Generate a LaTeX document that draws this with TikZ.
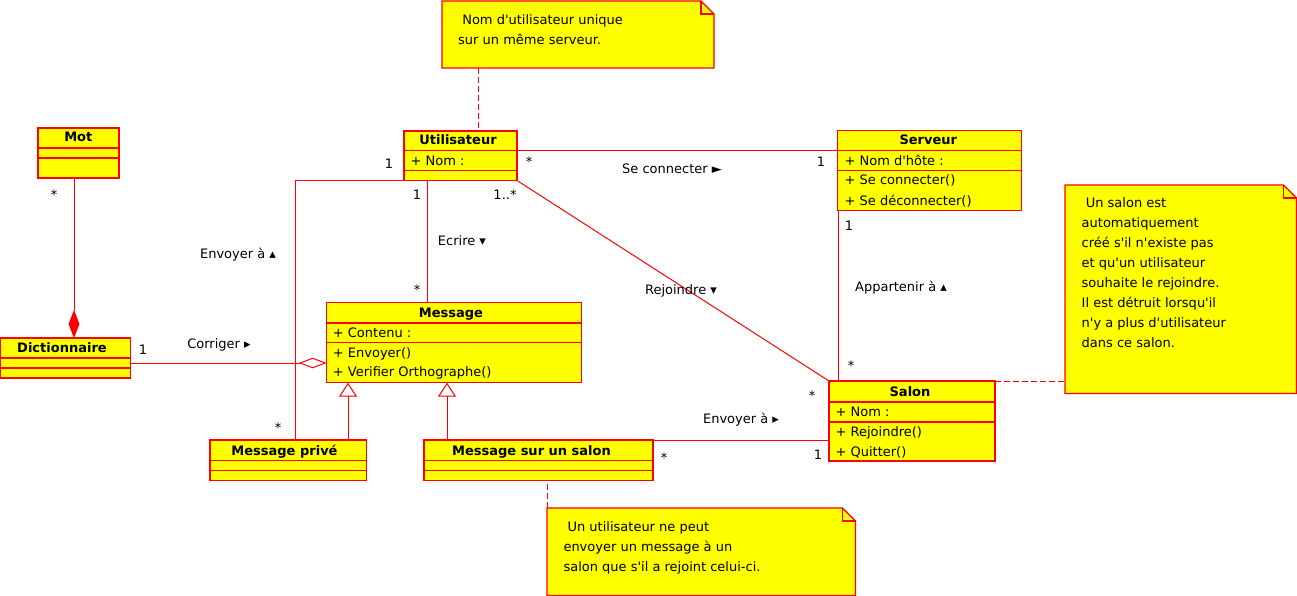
\documentclass[tikz,border=0pt]{standalone}
\usepackage{fontspec}
\setmainfont{DejaVu Sans}[Ligatures=TeXOff]
\usetikzlibrary{calc,arrows.meta}
\definecolor{umlred}{HTML}{FF0000}
\definecolor{umlyellow}{HTML}{FFFF00}
\begin{document}
\begin{tikzpicture}[x=1pt,y=-1pt,
  box/.style={draw=umlred, fill=umlyellow, line width=1.1pt, inner sep=0pt, outer sep=0pt, anchor=north west},
  notebox/.style={inner sep=0pt, outer sep=0pt, anchor=north west},
  notefill/.style={draw=umlred, fill=umlyellow, line width=1.1pt, line join=miter},
  sepline/.style={draw=umlred, line width=1.1pt},
  assoc/.style={draw=umlred, line width=1pt},
  dl/.style={draw=umlred, line width=1pt, dash pattern=on 6pt off 3pt},
  lbl/.style={font=\fontsize{13}{16}\selectfont, inner sep=0pt, anchor=base},
  ttl/.style={font=\bfseries\fontsize{13}{16}\selectfont, inner sep=0pt, anchor=base},
  attr/.style={font=\fontsize{13}{16}\selectfont, inner sep=0pt, anchor=base west},
  notetext/.style={font=\fontsize{13}{20}\selectfont, inner sep=0pt, anchor=north west, align=left}]
\useasboundingbox (0,0) rectangle (1297,596);

% ---------- classes ----------
\node[box, minimum width=81pt, minimum height=50pt] (mot) at (38,128) {};
\draw[sepline] ([yshift=-20pt]mot.north west) -- ([yshift=-20pt]mot.north east);
\draw[sepline] ([yshift=-30pt]mot.north west) -- ([yshift=-30pt]mot.north east);
\node[ttl] (tmot) at (78.3,142) {Mot};

\node[box, minimum width=129.5pt, minimum height=40pt] (dict) at (0.7,338) {};
\draw[sepline] ([yshift=-20pt]dict.north west) -- ([yshift=-20pt]dict.north east);
\draw[sepline] ([yshift=-30pt]dict.north west) -- ([yshift=-30pt]dict.north east);
\node[ttl] (tdict) at (62,352.5) {Dictionnaire};

\node[box, minimum width=113pt, minimum height=49.5pt] (util) at (404,131) {};
\draw[sepline] ([yshift=-19.5pt]util.north west) -- ([yshift=-19.5pt]util.north east);
\draw[sepline] ([yshift=-39.5pt]util.north west) -- ([yshift=-39.5pt]util.north east);
\node[ttl] (tutil) at (458,145) {Utilisateur};
\node[attr] (autil) at (410.4,165) {+ Nom :};

\node[box, minimum width=184.5pt, minimum height=79.5pt] (serv) at (837.3,130.8) {};
\draw[sepline] ([yshift=-20pt]serv.north west) -- ([yshift=-20pt]serv.north east);
\draw[sepline] ([yshift=-40pt]serv.north west) -- ([yshift=-40pt]serv.north east);
\node[ttl] (tserv) at (928.3,145) {Serveur};
\node[attr] (aserv) at (844.4,165.5) {+ Nom d'hôte :};
\node[attr] (oserv1) at (844.4,185) {+ Se connecter()};
\node[attr] (oserv2) at (844.4,205) {+ Se déconnecter()};

\node[box, minimum width=255pt, minimum height=80pt] (msg) at (326.7,302.7) {};
\draw[sepline] ([yshift=-20.3pt]msg.north west) -- ([yshift=-20.3pt]msg.north east);
\draw[sepline] ([yshift=-40pt]msg.north west) -- ([yshift=-40pt]msg.north east);
\node[ttl] (tmsg) at (451,317) {Message};
\node[attr] (amsg) at (332.7,337.5) {+ Contenu :};
\node[attr] (omsg1) at (332.7,357) {+ Envoyer()};
\node[attr] (omsg2) at (332.7,376.5) {+ Verifier Orthographe()};

\node[box, minimum width=156.7pt, minimum height=40.3pt] (mp) at (210,440) {};
\draw[sepline] ([yshift=-20.3pt]mp.north west) -- ([yshift=-20.3pt]mp.north east);
\draw[sepline] ([yshift=-30.3pt]mp.north west) -- ([yshift=-30.3pt]mp.north east);
\node[ttl] (tmp) at (284.5,455) {Message privé};

\node[box, minimum width=229pt, minimum height=40.3pt] (ms) at (424,440) {};
\draw[sepline] ([yshift=-20.3pt]ms.north west) -- ([yshift=-20.3pt]ms.north east);
\draw[sepline] ([yshift=-30.3pt]ms.north west) -- ([yshift=-30.3pt]ms.north east);
\node[ttl] (tms) at (531.5,455) {Message sur un salon};

\node[box, minimum width=166pt, minimum height=80pt] (salon) at (829,381) {};
\draw[sepline] ([yshift=-21pt]salon.north west) -- ([yshift=-21pt]salon.north east);
\draw[sepline] ([yshift=-41pt]salon.north west) -- ([yshift=-41pt]salon.north east);
\node[ttl] (tsalon) at (910,396) {Salon};
\node[attr] (asalon) at (835.4,416) {+ Nom :};
\node[attr] (osalon1) at (835.4,436) {+ Rejoindre()};
\node[attr] (osalon2) at (835.4,456) {+ Quitter()};

% ---------- notes ----------
\node[notebox, minimum width=272pt, minimum height=67pt] (note1) at (442,1) {};
\node[notebox, minimum width=231.5pt, minimum height=208.5pt] (note2) at (1065,185) {};
\node[notebox, minimum width=308.5pt, minimum height=87.5pt] (note3) at (547,508) {};
\foreach \n in {note1,note2,note3}{
  \filldraw[notefill] (\n.north west) -- ([xshift=-13pt]\n.north east) -- ([yshift=-13pt]\n.north east)
     -- (\n.south east) -- (\n.south west) -- cycle;
  \draw[notefill, fill=none] ([xshift=-13pt]\n.north east) -- ([xshift=-13pt,yshift=-13pt]\n.north east)
     -- ([yshift=-13pt]\n.north east);
}
\node[notetext] (tnote1) at (458,10) {\strut\hspace*{4.1pt}Nom d'utilisateur unique\\sur un même serveur.};
\node[notetext] (tnote2) at (1081.5,193.5) {\strut\hspace*{4.1pt}Un salon est\\automatiquement\\créé s'il n'existe pas\\et qu'un utilisateur\\souhaite le rejoindre.\\Il est détruit lorsqu'il\\n'y a plus d'utilisateur\\dans ce salon.};
\node[notetext] (tnote3) at (563.3,517) {\strut\hspace*{4.1pt}Un utilisateur ne peut\\envoyer un message à un\\salon que s'il a rejoint celui-ci.};

% ---------- connectors ----------
\draw[dl] ([xshift=36pt]note1.south west) coordinate (d1) -- (d1 |- util.north);
\draw[dl] (salon.north east) -- (salon.north east -| note2.west);
\draw[dl] (note3.north west) -- (note3.north west |- ms.south);

\draw[assoc] ([yshift=-19.5pt]util.north east) coordinate (us) -- (us -| serv.west);
\draw[assoc] ([xshift=23pt]util.south west) coordinate (um) -- (um |- msg.north);
\draw[assoc] (util.south west) -| ([xshift=85.3pt]mp.north west);
\draw[assoc] (util.south east) -- (salon.north west);
\draw[assoc] ([xshift=0.7pt]serv.south west) coordinate (ss) -- (ss |- salon.north);
\draw[assoc, -{Diamond[length=28pt,width=11pt,fill=umlred]}] ([xshift=36pt]mot.south west) coordinate (md) -- (md |- dict.north);
\draw[assoc, -{Diamond[open,length=28pt,width=10.5pt]}] ([yshift=-25pt]dict.north east) coordinate (dm) -- (dm -| msg.west);
\draw[assoc, -{Triangle[open,length=14pt,width=18pt]}] ([xshift=138pt]mp.north west) coordinate (g1) -- (g1 |- msg.south);
\draw[assoc, -{Triangle[open,length=14pt,width=18pt]}] ([xshift=23pt]ms.north west) coordinate (g2) -- (g2 |- msg.south);
\draw[assoc] (ms.north east) -- (ms.north east -| salon.west);

% ---------- labels ----------
\node[lbl] (l1) at (389,168) {1};
\node[lbl] (l2) at (529,166.5) {*};
\node[lbl] (l3) at (672,174) {Se connecter ►};
\node[lbl] (l4) at (821,167) {1};
\node[lbl] (l5) at (417,200) {1};
\node[lbl] (l6) at (505,199.5) {1..*};
\node[lbl] (l7) at (238,258) {Envoyer à ▴};
\node[lbl] (l8) at (462,245) {Ecrire ▾};
\node[lbl] (l9) at (681,294) {Rejoindre ▾};
\node[lbl] (l10) at (901,291) {Appartenir à ▴};
\node[lbl] (l11) at (849,230) {1};
\node[lbl] (l12) at (851,370) {*};
\node[lbl] (l13) at (812,400) {*};
\node[lbl] (l14) at (417,294) {*};
\node[lbl] (l15) at (54,200) {*};
\node[lbl] (l16) at (143,354) {1};
\node[lbl] (l17) at (219,348) {Corriger ▸};
\node[lbl] (l18) at (278,432) {*};
\node[lbl] (l19) at (741,423) {Envoyer à ▸};
\node[lbl] (l20) at (664,462) {*};
\node[lbl] (l21) at (818,459) {1};
\end{tikzpicture}
\end{document}
